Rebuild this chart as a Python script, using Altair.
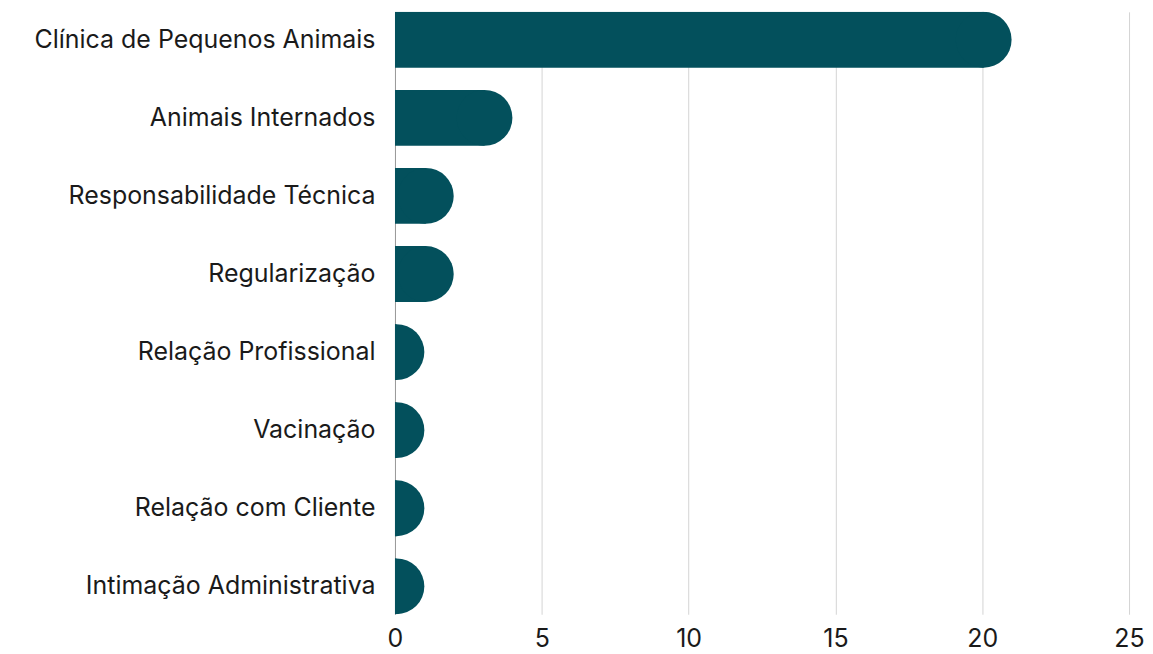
import altair as alt
import pandas as pd

categories = [
    "Clínica de Pequenos Animais",
    "Animais Internados",
    "Responsabilidade Técnica",
    "Regularização",
    "Relação Profissional",
    "Vacinação",
    "Relação com Cliente",
    "Intimação Administrativa",
]
values = [21, 4, 2, 2, 1, 1, 1, 1]

df = pd.DataFrame({"categoria": categories, "valor": values})

FONT = "Inter"
COLOR = "#03505C"
W, H = 736, 604
XMAX = 25
BAND = 56
R = BAND / 2
R_UNITS = R * XMAX / W  # end-cap radius expressed in data units

y_enc = alt.Y(
    "categoria:N",
    sort=categories,
    title=None,
    scale=alt.Scale(paddingInner=1 - 56 / (548 / 7), paddingOuter=0),
    axis=alt.Axis(
        ticks=False,
        domain=True,
        domainColor="#9a9a9a",
        domainWidth=1,
        labelFontSize=25,
        labelFont=FONT,
        labelColor="#1a1a1a",
        labelPadding=20,
        labelLimit=600,
    ),
)
x_scale = alt.Scale(domain=[0, XMAX], nice=False)
x_axis = alt.Axis(
    values=[0, 5, 10, 15, 20, 25],
    ticks=False,
    domain=False,
    grid=True,
    gridColor="#d4d4d4",
    gridWidth=1,
    labelFontSize=25,
    labelFont=FONT,
    labelColor="#1a1a1a",
    labelPadding=12,
    labelFlush=False,
)

base = alt.Chart(df).transform_calculate(cap=f"datum.valor - {R_UNITS}")

rect = base.mark_bar(color=COLOR, clip=True).encode(
    y=y_enc,
    x=alt.X("valor0:Q", title=None, scale=x_scale, axis=x_axis),
    x2="cap:Q",
).transform_calculate(valor0="0")

cap = base.mark_circle(color=COLOR, opacity=1, size=BAND * BAND, clip=True).encode(
    y=alt.Y("categoria:N", sort=categories),
    x=alt.X("cap:Q"),
)

chart = (
    alt.layer(rect, cap)
    .properties(
        width=W,
        height=H,
        padding={"left": 25, "top": 3, "right": 0, "bottom": 0},
    )
    .configure_view(stroke=None)
)

chart.save("out.html", embed_options={"renderer": "svg", "actions": False})
